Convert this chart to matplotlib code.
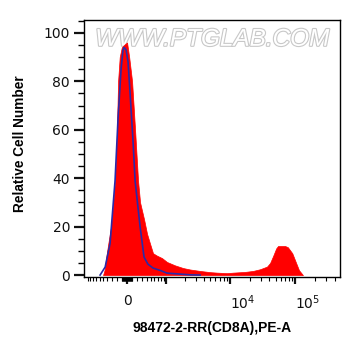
import numpy as np
import matplotlib
matplotlib.use("Agg")
import matplotlib.pyplot as plt
import matplotlib.patheffects as pe
from matplotlib.ticker import FixedLocator, FixedFormatter, MultipleLocator

plt.rcParams['font.family'] = ['Liberation Sans', 'DejaVu Sans']
plt.rcParams['mathtext.fontset'] = 'custom'
plt.rcParams['mathtext.rm'] = 'DejaVu Sans'

# stained sample (red filled histogram)
sample_x = [-508, -470, -432, -380, -318, -270, -233, -200, -172, -140, -100, -57, 0,
            40, 95, 153, 212, 254, 340, 409, 481, 560, 676, 840, 1026, 1400, 1890,
            2430, 3480, 5000, 6360, 9000, 11200, 17000, 22600, 28900, 37000, 41200,
            46000, 51000, 54500, 69700, 77000, 90000, 103000, 114000, 131000]
sample_y = [0, 2, 7, 13, 20, 30, 39, 55, 80, 90, 94, 95, 96,
            90, 80, 60, 39, 30, 23, 17, 13, 9, 8, 7, 5.4, 4, 2.9,
            2.3, 1.7, 1.2, 1.0, 0.8, 1.0, 1.3, 1.7, 2.4, 3.5, 5,
            8, 11, 12, 12, 11.5, 9, 5, 2, 0]

# control (blue outline)
control_x = [-588, -455, -340, -233, -172, -114, -76, -57, -19, 19, 57, 114, 153,
             254, 340, 430, 560, 800, 1026, 1700, 2430, 3480]
control_y = [0, 3.3, 13, 39, 65, 85, 93, 94, 93, 88, 75, 55, 39,
             20, 7.4, 4.5, 2.9, 1.8, 0.8, 0.4, 0.1, 0]

W = 535.0
def fwd(v):
    return np.arcsinh(np.asarray(v, dtype=float) / W)
def inv(v):
    return W * np.sinh(np.asarray(v, dtype=float))

fig = plt.figure(figsize=(3.61, 3.56), dpi=100)
ax = fig.add_axes([84/361, 79/356, 256/361, 257/356])
ax.set_xscale('function', functions=(fwd, inv))

ax.fill_between(sample_x, 0, sample_y, color='#ff0000', lw=0.5, edgecolor='#ff0000', zorder=2)
ax.plot(control_x, control_y, color='#2a2aa8', lw=1.2, zorder=3)

ax.set_xlim(-1160, 483000)
ax.set_ylim(-0.8, 105.3)

major = [0, 1e3, 1e4, 1e5]
ax.xaxis.set_major_locator(FixedLocator(major))
ax.xaxis.set_major_formatter(FixedFormatter(['0', '', '$10^4$', '$10^5$']))
minor = []
for k in [10, 100]:
    for n in range(1, 10):
        minor += [n * k, -n * k]
minor += [-1000]
for k in [1e3, 1e4, 1e5]:
    for n in range(2, 10):
        minor.append(n * k)
ax.xaxis.set_minor_locator(FixedLocator(minor))

ax.yaxis.set_major_locator(FixedLocator([0, 20, 40, 60, 80, 100]))
ax.yaxis.set_minor_locator(MultipleLocator(5))

ax.tick_params(axis='y', which='major', length=7, width=1.6, labelsize=10, pad=3, colors='#111111')
ax.tick_params(axis='y', which='minor', length=4, width=1)
ax.tick_params(axis='x', which='major', length=5, width=1.6, labelsize=10, pad=7, colors='#111111')
ax.tick_params(axis='x', which='minor', length=3, width=0.8)
for lab in ax.get_xticklabels() + ax.get_yticklabels():
    lab.set_fontfamily('DejaVu Sans')
for lab in ax.get_xticklabels():
    if '10' in lab.get_text():
        lab.set_horizontalalignment('left')

for s in ax.spines.values():
    s.set_linewidth(1.0)

ax.set_ylabel('Relative Cell Number', fontsize=9.8, fontweight='bold')
ax.yaxis.set_label_coords(-0.223, 0.52)
ax.set_xlabel('98472-2-RR(CD8A),PE-A', fontsize=10, fontweight='bold', va='center')
ax.xaxis.set_label_coords(0.5, -51/257)

ax.text(0.5, 0.925, 'WWW.PTGLAB.COM', transform=ax.transAxes, ha='center', va='center',
        fontsize=17.5, style='italic', color='white', zorder=1,
        path_effects=[pe.withStroke(linewidth=1.6, foreground='#c8c8c8')])

fig.savefig('out.png', dpi=100)
